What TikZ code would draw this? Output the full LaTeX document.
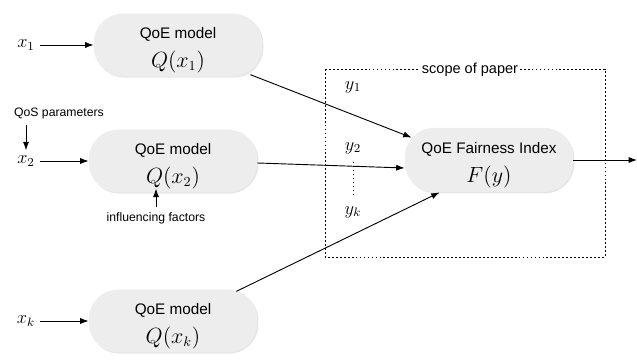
\documentclass[tikz,border=0pt]{standalone}
\usepackage[no-math]{fontspec}
\setmainfont{Liberation Sans}
\usetikzlibrary{arrows.meta,shadows,calc}

\begin{document}
\begin{tikzpicture}[x=0.654pt,y=-0.654pt,
  qoebox/.style={fill=black!7, rounded corners=19pt, minimum width=110pt,
    minimum height=41pt, inner ysep=0pt, align=center,
    drop shadow={opacity=0.2,shadow xshift=0.8pt,shadow yshift=-0.8pt}},
  arr/.style={-{Latex[length=5.5pt,width=4pt]}, line width=0.6pt},
  mathlbl/.style={font=\large},
  note/.style={font=\footnotesize}]
  \useasboundingbox (0,0) rectangle (637,360);

  % scope of the paper
  \draw[dash pattern=on 1.2pt off 1.4pt] (325,69) rectangle (605,257);
  \node[fill=white, inner sep=1pt, font=\fontsize{9.5}{11}\selectfont] (scope) at (470,70) {scope of paper};

  % the QoE models and their inputs
  \foreach \n/\xc/\yc in {1/178/45, 2/173/161, k/173/321}
  {
    \node[qoebox] (b\n) at (\xc,\yc) {\rule{0pt}{14pt}QoE model\\[5.5pt]{\fontsize{13.5}{15}\selectfont$Q(x_\n)$}};
    \node[mathlbl] (x\n) at (26,\yc) {$x_\n$};
    \draw[arr] (x\n) -- (b\n);
  }

  \node[qoebox, minimum height=42pt] (fair) at (489,160) {\rule{0pt}{14pt}QoE Fairness Index\\[5.5pt]{\fontsize{13.5}{15}\selectfont$F(y)$}};

  % outputs of the models
  \node[mathlbl] (y1) at (353,87) {$y_1$};
  \node[mathlbl] (y2) at (353,148) {$y_2$};
  \node[mathlbl] (yk) at (353,212) {$y_k$};
  \draw[dotted, line width=0.6pt, shorten <=2pt, shorten >=2pt] (y2) -- (yk);

  \node[note] (qos) at (59,114) {QoS parameters};
  \draw[arr] (qos.south -| x2) -- (x2);
  \node[note] (inf) at (156,218) {influencing factors};
  \draw[arr] (inf) -- ($(inf.north |- b2.south)+(0,-4)$);

  \draw[arr] ([shift={(-12,-2)}]b1.south east) -- ([shift={(7,10)}]fair.north west);
  \draw[arr] ([shift={(0,2)}]b2.east) -- ([shift={(0,8)}]fair.west);
  \draw[arr] ([shift={(-21,2)}]bk.north east) -- ([shift={(35,0)}]fair.south west);
  \coordinate (out) at (637,160);
  \draw[arr] (fair) -- (out);
\end{tikzpicture}
\end{document}
